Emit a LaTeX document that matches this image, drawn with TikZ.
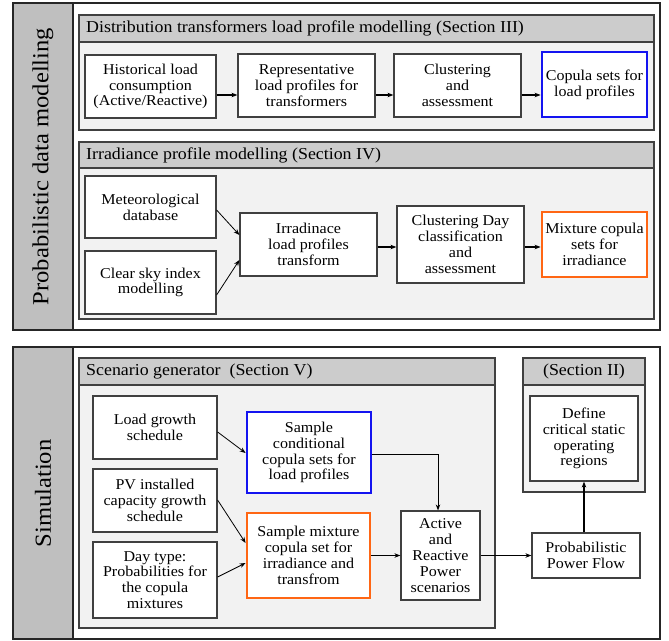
\documentclass[tikz,border=0pt]{standalone}
\usepackage{fontspec}
\setmainfont{Liberation Serif}[FakeStretch=1.07]
\usetikzlibrary{calc,arrows.meta}
\definecolor{bandgray}{RGB}{191,191,191}
\definecolor{hdrgray}{RGB}{204,204,204}
\definecolor{secfill}{RGB}{242,242,242}
\definecolor{edgegray}{RGB}{64,64,64}
\definecolor{cblue}{RGB}{20,20,240}
\definecolor{corange}{RGB}{255,102,20}
\begin{document}
\begin{tikzpicture}[x=1pt,y=-1pt,
  box/.style={draw=edgegray, line width=1.2pt, fill=white, align=center, inner sep=0pt,
    font=\fontsize{15}{15.8}\selectfont},
  bluebox/.style={box, draw=cblue, line width=2.8pt},
  orangebox/.style={box, draw=corange, line width=2.8pt},
  secbox/.style={draw=edgegray, line width=1.2pt, fill=secfill},
  hdr/.style={draw=edgegray, line width=1.2pt, fill=hdrgray},
  hdrtext/.style={anchor=west, inner sep=0pt, font=\fontsize{16.7}{17}\selectfont},
  frame/.style={draw=black!85, line width=1.2pt},
  vlabel/.style={rotate=90, inner sep=0pt, font=\fontsize{23}{23}\selectfont},
  thk/.style={line width=1.7pt, -{Stealth[length=6pt,width=4.5pt]}},
  thn/.style={line width=0.8pt, -{Stealth[length=6pt,width=4.5pt]}}
]
\useasboundingbox (0,0) rectangle (669,640);

% ---------- top panel ----------
\draw[frame, fill=white] (13,3) rectangle (660,330);
\draw[frame, fill=bandgray] (13,3) rectangle (73,330);
\node[vlabel] (lab1) at (43,166.5) {Probabilistic data modelling};

\draw[secbox] (79,15) rectangle (654,130);
\draw[hdr] (79,15) rectangle (654,42);
\node[hdrtext] (h3) at (86,28.5) {Distribution transformers load profile modelling (Section III)};

\node[box, minimum width=131, minimum height=63] (n1) at (150.5,86.5) {Historical load\\consumption\\(Active/Reactive)};
\node[box, minimum width=137, minimum height=63] (n2) at (306.5,85.5) {Representative\\load profiles for\\transformers};
\node[box, minimum width=127, minimum height=63] (n3) at (457.5,85.5) {Clustering\\and\\assessment};
\node[bluebox, minimum width=105, minimum height=65] (n4) at (594.5,84.5) {Copula sets for\\load profiles};

\draw[thk] ($(n1.east)+(0,8.5)$) -- ($(n2.west)+(0,9.5)$);
\draw[thk] ($(n2.east)+(0,9.5)$) -- ($(n3.west)+(0,9.5)$);
\draw[thk] ($(n3.east)+(0,9.5)$) -- ($(n4.west)+(0,10.5)$);

\draw[secbox] (79,142) rectangle (654,319);
\draw[hdr] (79,142) rectangle (654,168);
\node[hdrtext] (h4) at (86,155) {Irradiance profile modelling (Section IV)};

\node[box, minimum width=131, minimum height=62] (met) at (150.5,207) {Meteorological\\database};
\node[box, minimum width=131, minimum height=63] (csky) at (150.5,282.5) {Clear sky index\\modelling};
\node[box, minimum width=137, minimum height=63] (irr) at (308.5,244.5) {Irradinace\\load profiles\\transform};
\node[box, minimum width=127, minimum height=77] (cday) at (460.5,244.5) {Clustering Day\\classification\\and\\assessment};
\node[orangebox, minimum width=105, minimum height=65] (mix) at (594.5,244.5) {Mixture copula\\sets for\\irradiance};

\draw[thn] ($(met.east)+(0,3)$) -- ($(irr.west)+(0,-9.5)$);
\draw[thn] ($(csky.east)+(0,12.5)$) -- ($(irr.west)+(0,15.5)$);
\draw[thk] ($(irr.east)+(0,2.5)$) -- ($(cday.west)+(0,2.5)$);
\draw[thk] ($(cday.east)+(0,2.5)$) -- ($(mix.west)+(0,2.5)$);

% ---------- bottom panel ----------
\draw[frame, fill=white] (13,347) rectangle (660,639);
\draw[frame, fill=bandgray] (13,347) rectangle (73,639);
\node[vlabel] (lab2) at (43,493.5) {Simulation};

\draw[secbox] (79,358) rectangle (495,628);
\draw[hdr] (79,358) rectangle (495,385);
\node[hdrtext] (h5) at (86,371.5) {Scenario generator~~(Section V)};

\draw[secbox] (523,358) rectangle (645,492);
\draw[hdr] (523,358) rectangle (645,385);
\node[hdrtext, anchor=center] (h2) at (584,371.5) {(Section II)};

\node[box, minimum width=124, minimum height=63] (lg) at (155,427.5) {Load growth\\schedule};
\node[box, minimum width=124, minimum height=63] (pv) at (155,500.5) {PV installed\\capacity growth\\schedule};
\node[box, minimum width=124, minimum height=76] (dt) at (155,580) {Day type:\\Probabilities for\\the copula\\mixtures};
\node[bluebox, minimum width=124, minimum height=81] (scs) at (309,452.5) {Sample\\conditional\\copula sets for\\load profiles};
\node[orangebox, minimum width=123, minimum height=85] (smx) at (308.5,555.5) {Sample mixture\\copula set for\\irradiance and\\transfrom};
\node[box, minimum width=79, minimum height=89] (act) at (440.5,555.5) {Active\\and\\Reactive\\Power\\scenarios};
\node[box, minimum width=108, minimum height=45] (ppf) at (586,555.5) {Probabilistic\\Power Flow};
\node[box, minimum width=108, minimum height=85] (def) at (584,438.5) {Define\\critical static\\operating\\regions};

\draw[thn] ($(lg.east)+(0,4.5)$) -- ($(scs.west)+(0,0.5)$);
\draw[thn] ($(pv.east)+(0,-0.5)$) -- ($(smx.west)+(0,-12.5)$);
\draw[thn] ($(dt.east)+(0,-3)$) -- ($(smx.west)+(0,7.5)$);
\draw[thn] ($(scs.east)+(0,1.5)$) -| ($(act.north)+(-2.5,0)$);
\draw[thk] (smx.east) -- (act.west);
\draw[thk] (act.east) -- (ppf.west);
\draw[thk] (def.south |- ppf.north) -- (def.south);
\end{tikzpicture}
\end{document}
